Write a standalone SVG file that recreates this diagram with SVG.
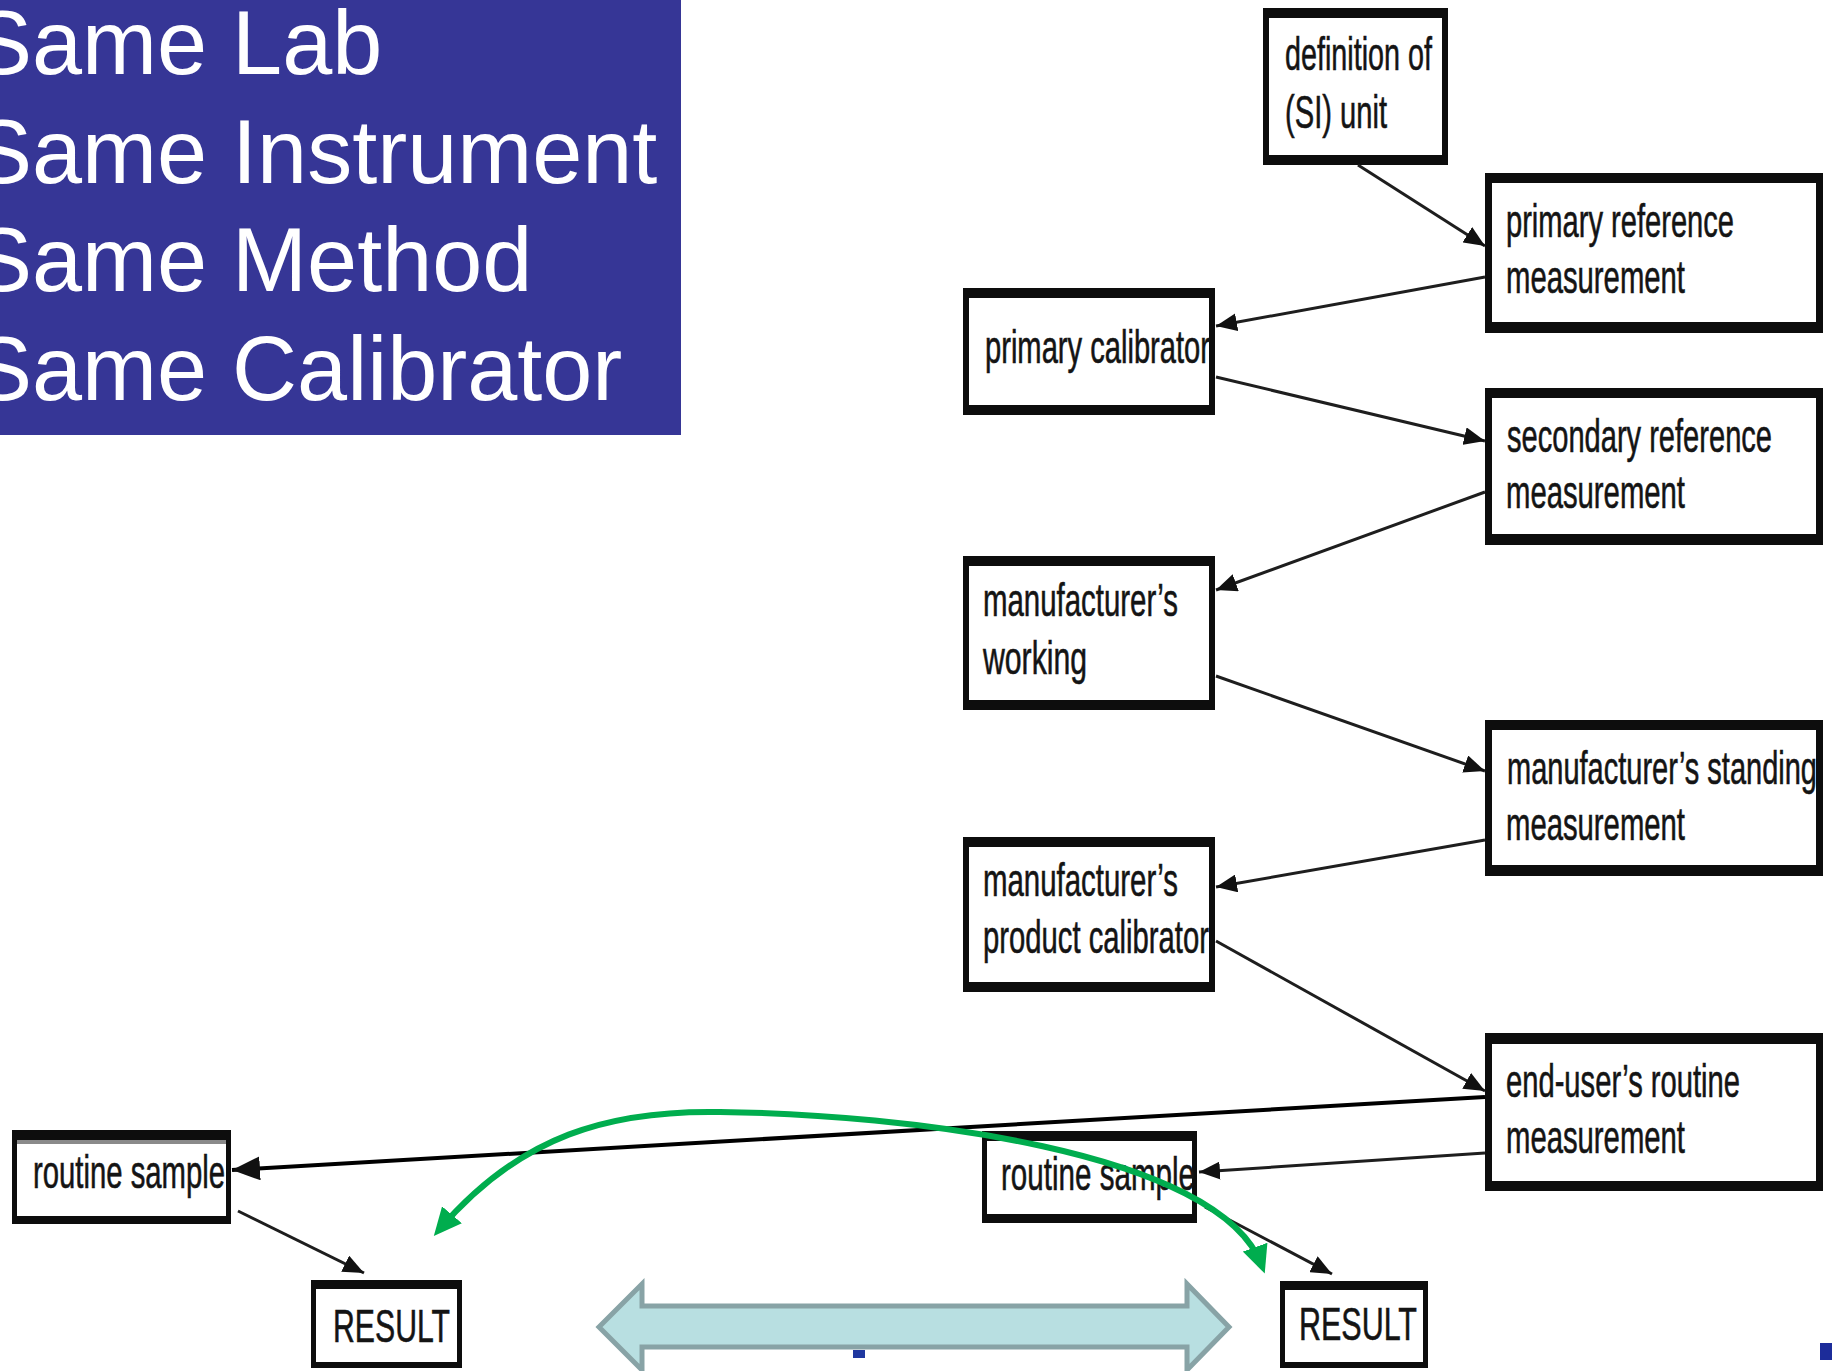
<svg xmlns="http://www.w3.org/2000/svg" width="1832" height="1371" viewBox="0 0 1832 1371">
  <style>
    .frame { fill: #0d0d0d; }
    .face { fill: #ffffff; }
    .lbl { font-family: "Liberation Sans", Arial, sans-serif; font-size: 47px; fill: #141414; stroke: #141414; stroke-width: 0.6; }
    .title { font-family: "Liberation Sans", Arial, sans-serif; font-size: 90px; fill: #ffffff; }
    .link { stroke: #1e1e1e; stroke-width: 3; fill: none; marker-end: url(#head); }
    .link.strong { stroke: #000000; stroke-width: 4; }
    .compare { stroke: #00ad4e; stroke-width: 6; fill: none; marker-start: url(#ghead); marker-end: url(#ghead); }
  </style>
  <defs>
    <marker id="head" viewBox="0 0 7 6" refX="7" refY="3" markerWidth="7" markerHeight="6" orient="auto" markerUnits="strokeWidth">
      <path d="M0,0 L7,3 L0,6 z" fill="#111111"/>
    </marker>
    <marker id="ghead" viewBox="0 0 28 26" refX="20" refY="13" markerWidth="28" markerHeight="26" orient="auto-start-reverse" markerUnits="userSpaceOnUse">
      <path d="M0,0 L28,13 L0,26 z" fill="#00ad4e"/>
    </marker>
  </defs>

  <rect width="1832" height="1371" fill="#ffffff"/>

  <!-- heading panel -->
  <g id="conditions">
    <rect x="0" y="0" width="681" height="435" fill="#363696"/>
    <text class="title" x="-28" y="74">Same Lab</text>
    <text class="title" x="-28" y="183">Same Instrument</text>
    <text class="title" x="-28" y="291">Same Method</text>
    <text class="title" x="-28" y="400">Same Calibrator</text>
  </g>

  <!-- traceability chain nodes -->
  <g id="si-unit">
    <rect class="frame" x="1263" y="8" width="185" height="157"/>
    <rect class="face" x="1269" y="18" width="173" height="137"/>
    <text class="lbl" x="1285" y="70" textLength="147" lengthAdjust="spacingAndGlyphs">definition of</text>
    <text class="lbl" x="1285" y="128" textLength="102" lengthAdjust="spacingAndGlyphs">(SI) unit</text>
  </g>
  <g id="primary-reference">
    <rect class="frame" x="1485" y="173" width="338" height="160"/>
    <rect class="face" x="1492" y="183" width="324" height="139"/>
    <text class="lbl" x="1506" y="237" textLength="228" lengthAdjust="spacingAndGlyphs">primary reference</text>
    <text class="lbl" x="1506" y="293" textLength="179" lengthAdjust="spacingAndGlyphs">measurement</text>
  </g>
  <g id="primary-calibrator">
    <rect class="frame" x="963" y="288" width="252" height="127"/>
    <rect class="face" x="969" y="298" width="240" height="107"/>
    <text class="lbl" x="985" y="363" textLength="225" lengthAdjust="spacingAndGlyphs">primary calibrator</text>
  </g>
  <g id="secondary-reference">
    <rect class="frame" x="1485" y="388" width="338" height="157"/>
    <rect class="face" x="1492" y="398" width="324" height="136"/>
    <text class="lbl" x="1507" y="452" textLength="265" lengthAdjust="spacingAndGlyphs">secondary reference</text>
    <text class="lbl" x="1506" y="508" textLength="179" lengthAdjust="spacingAndGlyphs">measurement</text>
  </g>
  <g id="manufacturer-working">
    <rect class="frame" x="963" y="556" width="252" height="154"/>
    <rect class="face" x="969" y="566" width="240" height="134"/>
    <text class="lbl" x="983" y="616" textLength="195" lengthAdjust="spacingAndGlyphs">manufacturer’s</text>
    <text class="lbl" x="983" y="674" textLength="104" lengthAdjust="spacingAndGlyphs">working</text>
  </g>
  <g id="manufacturer-standing">
    <rect class="frame" x="1485" y="720" width="338" height="156"/>
    <rect class="face" x="1492" y="730" width="324" height="135"/>
    <text class="lbl" x="1507" y="784" textLength="310" lengthAdjust="spacingAndGlyphs">manufacturer’s standing</text>
    <text class="lbl" x="1506" y="840" textLength="179" lengthAdjust="spacingAndGlyphs">measurement</text>
  </g>
  <g id="product-calibrator">
    <rect class="frame" x="963" y="837" width="252" height="155"/>
    <rect class="face" x="969" y="847" width="240" height="135"/>
    <text class="lbl" x="983" y="896" textLength="195" lengthAdjust="spacingAndGlyphs">manufacturer’s</text>
    <text class="lbl" x="983" y="953" textLength="226" lengthAdjust="spacingAndGlyphs">product calibrator</text>
  </g>
  <g id="end-user-routine">
    <rect class="frame" x="1485" y="1033" width="338" height="158"/>
    <rect class="face" x="1492" y="1044" width="324" height="137"/>
    <text class="lbl" x="1506" y="1097" textLength="234" lengthAdjust="spacingAndGlyphs">end-user’s routine</text>
    <text class="lbl" x="1506" y="1153" textLength="179" lengthAdjust="spacingAndGlyphs">measurement</text>
  </g>
  <g id="routine-sample-b">
    <rect class="frame" x="982" y="1131" width="215" height="92"/>
    <rect class="face" x="987" y="1141" width="205" height="73"/>
    <text class="lbl" x="1001" y="1190" textLength="194" lengthAdjust="spacingAndGlyphs">routine sample</text>
  </g>
  <g id="result-b">
    <rect class="frame" x="1280" y="1281" width="148" height="87"/>
    <rect class="face" x="1285" y="1290" width="138" height="72"/>
    <text class="lbl" x="1299" y="1340" textLength="118" lengthAdjust="spacingAndGlyphs">RESULT</text>
  </g>
  <g id="routine-sample-a">
    <rect class="frame" x="12" y="1130" width="219" height="94"/>
    <rect class="face" x="17" y="1140" width="209" height="76"/>
    <rect x="17" y="1140" width="209" height="4" fill="#8a8a8a"/>
    <text class="lbl" x="33" y="1188" textLength="192" lengthAdjust="spacingAndGlyphs">routine sample</text>
  </g>
  <g id="result-a">
    <rect class="frame" x="311" y="1280" width="151" height="88"/>
    <rect class="face" x="316" y="1289" width="141" height="73"/>
    <text class="lbl" x="333" y="1342" textLength="117" lengthAdjust="spacingAndGlyphs">RESULT</text>
  </g>

  <!-- comparison arrow between the two laboratories -->
  <g id="comparison">
    <path d="M599,1327 L642,1284 L642,1306 L1187,1306 L1187,1284 L1229,1327 L1187,1370 L1187,1347 L642,1347 L642,1370 Z" fill="#b8dfe1" stroke="#88a3a6" stroke-width="5" stroke-linejoin="miter"/>
    <rect x="853" y="1350" width="12" height="8" fill="#2038a0"/>
    <rect x="1820" y="1343" width="12" height="17" fill="#1c2c9a"/>
  </g>

  <!-- connectors -->
  <g id="connectors">
    <line class="link" x1="1358" y1="165" x2="1485" y2="246"/>
    <line class="link" x1="1485" y1="277" x2="1216" y2="326"/>
    <line class="link" x1="1216" y1="377" x2="1485" y2="441"/>
    <line class="link" x1="1485" y1="492" x2="1216" y2="590"/>
    <line class="link" x1="1216" y1="676" x2="1485" y2="771"/>
    <line class="link" x1="1485" y1="840" x2="1216" y2="887"/>
    <line class="link" x1="1216" y1="941" x2="1485" y2="1091"/>
    <line class="link strong" x1="1485" y1="1097" x2="232" y2="1170"/>
    <line class="link" x1="1485" y1="1153" x2="1199" y2="1172"/>
    <line class="link" x1="1205" y1="1207" x2="1332" y2="1274"/>
    <line class="link" x1="238" y1="1211" x2="364" y2="1273"/>
    <path class="compare" d="M439,1230 C520,1135 610,1110 720,1112 C900,1114 1220,1150 1262,1266"/>
  </g>
</svg>
